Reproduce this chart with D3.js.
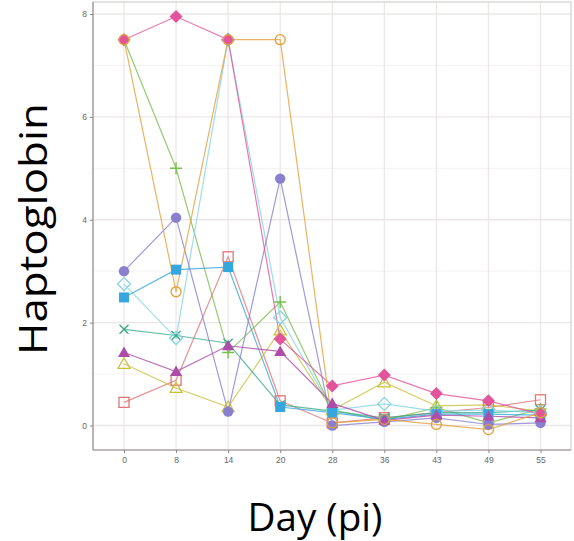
<!DOCTYPE html>
<html>
<head>
<meta charset="utf-8">
<script src="https://cdn.jsdelivr.net/npm/d3@7/dist/d3.min.js"></script>
<style>
  html, body { margin: 0; padding: 0; background: #fff; }
  svg { display: block; }
</style>
</head>
<body>
<svg id="chart" width="574" height="541"></svg>
<script>
// ---- Data ----
const days = ["0", "8", "14", "20", "28", "36", "43", "49", "55"];
const yTicks = [0, 2, 4, 6, 8];
const yMinorTicks = [1, 3, 5, 7];

const seriesNames = ["A", "B", "C", "D", "E", "F", "G", "H", "I", "J"];
const seriesA = [0.45, 0.88, 3.28, 0.48, 0.05, 0.15, 0.25, 0.35, 0.50];   // salmon open square
const seriesB = [1.20, 0.73, 0.36, 1.85, 0.30, 0.84, 0.38, 0.40, 0.28];   // olive open triangle
const seriesC = [7.50, 5.00, 1.42, 2.40, 0.30, 0.10, 0.35, 0.05, 0.32];   // green plus
const seriesD = [1.87, 1.75, 1.60, 0.40, 0.28, 0.15, 0.25, 0.25, 0.30];   // teal x
const seriesE = [2.75, 1.70, 7.50, 2.10, 0.30, 0.42, 0.28, 0.30, 0.25];   // light cyan open diamond
const seriesF = [2.49, 3.03, 3.08, 0.36, 0.25, 0.12, 0.22, 0.22, 0.20];   // blue filled square
const seriesG = [3.00, 4.04, 0.27, 4.80, 0.00, 0.07, 0.15, 0.02, 0.05];   // purple filled circle
const seriesH = [1.42, 1.05, 1.55, 1.44, 0.43, 0.10, 0.20, 0.18, 0.15];   // magenta filled triangle
const seriesI = [7.50, 7.95, 7.50, 1.68, 0.77, 0.98, 0.62, 0.48, 0.22];   // pink filled diamond
const seriesJ = [7.50, 2.60, 7.50, 7.50, 0.05, 0.12, 0.02, -0.08, 0.25];  // orange open circle

const seriesValues = [seriesA, seriesB, seriesC, seriesD, seriesE, seriesF, seriesG, seriesH, seriesI, seriesJ];
const seriesColors = ["#E27676", "#C9C13C", "#79BE4E", "#3CAA89", "#86D4E2", "#36A6DE", "#8A7FCF", "#AE4CAA", "#E2549B", "#E4A03A"];
const seriesShapes = ["square-open", "triangle-open", "plus", "cross", "diamond-open", "square", "circle", "triangle", "diamond", "circle-open"];

// ---- Layout ----
const svg = d3.select("#chart");
const panel = { left: 93, right: 571, top: 2, bottom: 450 };

const x = d3.scalePoint().domain(days).range([124, 540.5]);
const y = d3.scaleLinear().domain([0, 8]).range([425.5, 14]);

// Background
svg.append("rect").attr("x", panel.left).attr("y", panel.top)
  .attr("width", panel.right - panel.left).attr("height", panel.bottom - panel.top)
  .attr("fill", "#fff");

// Grid
const grid = svg.append("g");
grid.selectAll(".ymin").data(yMinorTicks).enter().append("line")
  .attr("x1", panel.left).attr("x2", panel.right)
  .attr("y1", d => y(d)).attr("y2", d => y(d))
  .attr("stroke", "#F4F1F1").attr("stroke-width", 1);
grid.selectAll(".ymaj").data(yTicks).enter().append("line")
  .attr("x1", panel.left).attr("x2", panel.right)
  .attr("y1", d => y(d)).attr("y2", d => y(d))
  .attr("stroke", "#ECE7E7").attr("stroke-width", 1.3);
grid.selectAll(".xmaj").data(days).enter().append("line")
  .attr("y1", panel.top).attr("y2", panel.bottom)
  .attr("x1", d => x(d)).attr("x2", d => x(d))
  .attr("stroke", "#ECE7E7").attr("stroke-width", 1.3);

// Panel border
svg.append("rect").attr("x", panel.left).attr("y", panel.top)
  .attr("width", panel.right - panel.left).attr("height", panel.bottom - panel.top)
  .attr("fill", "none").attr("stroke", "#CFC6C6").attr("stroke-width", 1);
// Axis lines (darker)
svg.append("line").attr("x1", panel.left).attr("x2", panel.left)
  .attr("y1", panel.top).attr("y2", panel.bottom)
  .attr("stroke", "#A89898").attr("stroke-width", 1.3);
svg.append("line").attr("x1", panel.left).attr("x2", panel.right)
  .attr("y1", panel.bottom).attr("y2", panel.bottom)
  .attr("stroke", "#B8A8A8").attr("stroke-width", 1.3);

// Axes via d3
const yAxis = d3.axisLeft(y).tickValues(yTicks).tickSize(3).tickPadding(3).tickFormat(d3.format("d"));
const gy = svg.append("g").attr("transform", `translate(${panel.left},0)`).call(yAxis);
gy.select(".domain").remove();
gy.selectAll(".tick line").attr("stroke", "#888");
gy.selectAll(".tick text").attr("fill", "#666").attr("font-size", 8.5)
  .attr("font-family", "Liberation Sans, Arial, sans-serif");

const xAxis = d3.axisBottom(x).tickSize(3).tickPadding(4);
const gx = svg.append("g").attr("transform", `translate(0,${panel.bottom})`).call(xAxis);
gx.select(".domain").remove();
gx.selectAll(".tick line").attr("stroke", "#888");
gx.selectAll(".tick text").attr("fill", "#666").attr("font-size", 8.5)
  .attr("font-family", "Liberation Sans, Arial, sans-serif");

// Lines
const line = d3.line().x((d, i) => x(days[i])).y(d => y(d));
const plot = svg.append("g");
seriesValues.forEach((vals, k) => {
  plot.append("path").datum(vals)
    .attr("d", line)
    .attr("fill", "none")
    .attr("stroke", seriesColors[k])
    .attr("stroke-width", 1.2)
    .attr("stroke-opacity", 0.8);
});

// Markers
function drawMarker(g, shape, color, cx, cy) {
  const s = 5;
  switch (shape) {
    case "square":
      g.append("rect").attr("x", cx - s).attr("y", cy - s).attr("width", 2 * s).attr("height", 2 * s).attr("fill", color);
      break;
    case "square-open":
      g.append("rect").attr("x", cx - s).attr("y", cy - s).attr("width", 2 * s).attr("height", 2 * s)
        .attr("fill", "none").attr("stroke", color).attr("stroke-width", 1.3);
      break;
    case "circle":
      g.append("circle").attr("cx", cx).attr("cy", cy).attr("r", 5.2).attr("fill", color);
      break;
    case "circle-open":
      g.append("circle").attr("cx", cx).attr("cy", cy).attr("r", 5).attr("fill", "none")
        .attr("stroke", color).attr("stroke-width", 1.3);
      break;
    case "triangle":
      g.append("path").attr("d", `M${cx},${cy - 6}L${cx + 6},${cy + 4.5}L${cx - 6},${cy + 4.5}Z`).attr("fill", color);
      break;
    case "triangle-open":
      g.append("path").attr("d", `M${cx},${cy - 6}L${cx + 6},${cy + 4.5}L${cx - 6},${cy + 4.5}Z`)
        .attr("fill", "none").attr("stroke", color).attr("stroke-width", 1.3);
      break;
    case "diamond":
      g.append("path").attr("d", `M${cx},${cy - 6.5}L${cx + 6.5},${cy}L${cx},${cy + 6.5}L${cx - 6.5},${cy}Z`).attr("fill", color);
      break;
    case "diamond-open":
      g.append("path").attr("d", `M${cx},${cy - 6.5}L${cx + 6.5},${cy}L${cx},${cy + 6.5}L${cx - 6.5},${cy}Z`)
        .attr("fill", "none").attr("stroke", color).attr("stroke-width", 1.3);
      break;
    case "plus":
      g.append("path").attr("d", `M${cx - 6},${cy}L${cx + 6},${cy}M${cx},${cy - 6}L${cx},${cy + 6}`)
        .attr("stroke", color).attr("stroke-width", 1.4);
      break;
    case "cross":
      g.append("path").attr("d", `M${cx - 4.5},${cy - 4.5}L${cx + 4.5},${cy + 4.5}M${cx - 4.5},${cy + 4.5}L${cx + 4.5},${cy - 4.5}`)
        .attr("stroke", color).attr("stroke-width", 1.4);
      break;
  }
}
seriesValues.forEach((vals, k) => {
  const g = plot.append("g").attr("class", "markers-" + seriesNames[k]);
  vals.forEach((v, i) => drawMarker(g, seriesShapes[k], seriesColors[k], x(days[i]), y(v)));
});

// Axis titles
svg.append("text")
  .attr("x", 315).attr("y", 531)
  .attr("text-anchor", "middle")
  .attr("font-family", "Open Sans, Liberation Sans, sans-serif")
  .attr("font-size", 39)
  .attr("textLength", 135).attr("lengthAdjust", "spacingAndGlyphs")
  .attr("fill", "#000")
  .text("Day (pi)");

svg.append("text")
  .attr("transform", "translate(47,229) rotate(-90)")
  .attr("text-anchor", "middle")
  .attr("font-family", "Open Sans, Liberation Sans, sans-serif")
  .attr("font-size", 39)
  .attr("textLength", 252).attr("lengthAdjust", "spacingAndGlyphs")
  .attr("fill", "#000")
  .text("Haptoglobin");
</script>
</body>
</html>
